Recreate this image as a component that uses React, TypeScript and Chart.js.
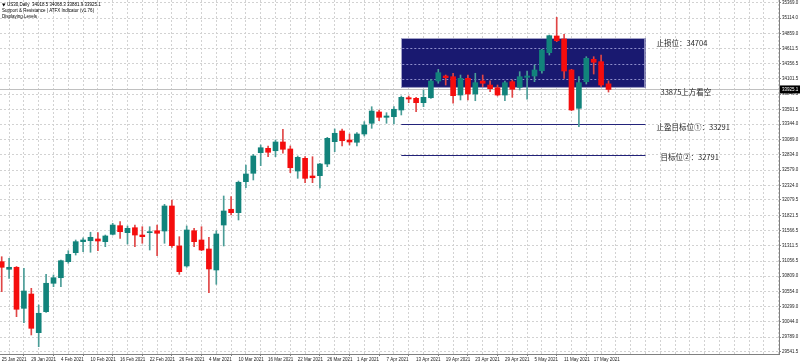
import React, { useEffect, useRef } from "react";
import { Chart, registerables } from "chart.js";

Chart.register(...registerables);

const tickLabels = [
  "25 Jan 2021", "29 Jan 2021", "4 Feb 2021", "10 Feb 2021", "16 Feb 2021", "22 Feb 2021",
  "26 Feb 2021", "4 Mar 2021", "10 Mar 2021", "16 Mar 2021", "22 Mar 2021", "26 Mar 2021",
  "1 Apr 2021", "7 Apr 2021", "13 Apr 2021", "19 Apr 2021", "23 Apr 2021", "29 Apr 2021",
  "5 May 2021", "11 May 2021", "17 May 2021",
];

const yTickValues = [
  35369.0, 35114.0, 34859.0, 34611.5, 34356.5, 34101.5, 33846.5, 33591.5, 33344.0, 33089.0,
  32834.0, 32579.0, 32324.0, 32079.5, 31821.5, 31566.5, 31311.5, 31056.5, 30809.0, 30554.0,
  30299.0, 30044.0, 29789.0, 29541.5,
];

const opens = [
  31049, 30922, 30955, 30270, 30509, 29863, 30214, 30688, 30781, 31049,
  31199, 31383, 31399, 31428, 31383, 31506, 31650, 31533, 31616, 31494,
  31533, 31566, 31561, 31979, 31311, 30977, 31566, 31411, 31261, 30910,
  31661, 31924, 31867, 32385, 32525, 32869, 32942, 32902, 33048, 32931,
  32563, 32775, 32480, 32485, 32680, 33053, 33231, 33081, 33043, 33181,
  33360, 33549, 33460, 33470, 33582, 33787, 33777, 33704, 33787, 34066,
  34150, 34138, 33832, 34111, 33849, 34066, 33999, 33954, 33832, 34055,
  33961, 34128, 34150, 34238, 34539, 34818, 34768, 34250, 33610, 34055,
  34429, 34389, 34018.5,
];
const highs = [
  31132, 31105, 30968, 30938, 30604, 30326, 30838, 30827, 31077, 31232,
  31411, 31449, 31540, 31533, 31494, 31690, 31717, 31645, 31661, 31633,
  31633, 31661, 32007, 32079, 31466, 31645, 31606, 31633, 31456, 31566,
  32146, 32134, 32396, 32664, 32842, 32998, 32981, 33081, 33260, 32981,
  32814, 32802, 32802, 32692, 33126, 33265, 33265, 33181, 33203, 33387,
  33637, 33582, 33537, 33637, 33816, 33816, 33794, 33916, 34095, 34262,
  34166, 34195, 34166, 34166, 34195, 34166, 34071, 33999, 34066, 34083,
  34222, 34233, 34333, 34596, 34834, 35130, 34846, 34262, 34138, 34472,
  34472, 34500, 34068.3,
];
const lows = [
  30548, 30771, 30130, 30030, 29825, 29629, 30200, 30631, 30631, 31022,
  31160, 31216, 31206, 31232, 31299, 31494, 31439, 31344, 31299, 31356,
  31244, 31149, 31356, 31289, 30838, 30955, 31299, 31232, 30531, 30671,
  31311, 31829, 31745, 32284, 32413, 32652, 32802, 32802, 32859, 32535,
  32441, 32368, 32368, 32279, 32635, 32886, 32981, 32998, 32981, 33148,
  33276, 33403, 33360, 33348, 33499, 33704, 33554, 33637, 33777, 34028,
  33999, 33694, 33749, 33749, 33737, 33971, 33888, 33816, 33737, 33794,
  33916, 33761, 34055, 34195, 34500, 34723, 34111, 33570, 33303, 34016,
  34183, 33971, 33881.9,
];
const closes = [
  30955, 30955, 30254, 30559, 29936, 30187, 30688, 30781, 31065, 31172,
  31383, 31411, 31456, 31394, 31478, 31661, 31550, 31606, 31494, 31466,
  31550, 31523, 31979, 31316, 30882, 31578, 31383, 31244, 30927, 31511,
  31895, 31867, 32375, 32513, 32814, 32952, 32876, 33048, 32926, 32618,
  32792, 32441, 32451, 32680, 33109, 33193, 33069, 33048, 33181, 33332,
  33565, 33460, 33482, 33594, 33794, 33766, 33704, 33794, 34066, 34205,
  34121, 33821, 34111, 33849, 34038, 34028, 33938, 33832, 34038, 33928,
  34138, 34150, 34250, 34584, 34823, 34739, 34233, 33582, 34038, 34445,
  34379, 33999, 33925.1,
];

const headerLines = [
  "US30,Daily  34018.5 34068.3 33881.9 33925.1",
  "Support & Resistance | ATFX Indicator (v1.76)",
  "Displaying Levels",
];
const bidPrice = 33925.1;
const zoneLevels = [34784, 33950];
const targetLevels = [33348, 32831];
const levelTexts = ["止损位：34704", "33875上方看空", "止盈目标位①：33291", "目标位②：32791"];
const levelTextValues = [34704, 33875, 33291, 32791];
const levelTextOffsets = [11, 15, 11, 15];
const levelRange = [54, 87];
const yRange = [29507, 35419];
const xRange = [-0.23, 105.04];

const BULL = "#12837b";
const BEAR = "#f50d0d";
const BULL_WICK = "#4a9d97";
const BEAR_WICK = "#e04545";
const GRID = "#d2d2d2";
const SMALL_FONT = '4.5px "Liberation Sans", Arial, sans-serif';

export default function App() {
  const canvasRef = useRef<HTMLCanvasElement | null>(null);

  useEffect(() => {
    document.body.style.margin = "0";
    const canvas = canvasRef.current;
    if (!canvas) return;

    const isBull = (i: number) => closes[i] >= opens[i];

    const overlay = {
      id: "overlay",
      beforeDatasetsDraw(chart: any) {
        const { ctx, chartArea } = chart;
        const x = chart.scales.x;
        const y = chart.scales.y;
        const x0 = x.getPixelForValue(levelRange[0]);
        const x1 = x.getPixelForValue(levelRange[1]);
        const yt = y.getPixelForValue(zoneLevels[0]);
        const yb = y.getPixelForValue(zoneLevels[1]);
        ctx.save();
        const by = Math.round(y.getPixelForValue(bidPrice)) + 0.5;
        ctx.strokeStyle = "#c0c0c0";
        ctx.lineWidth = 1;
        ctx.beginPath();
        ctx.moveTo(chartArea.left, by);
        ctx.lineTo(chartArea.right, by);
        ctx.stroke();
        ctx.fillStyle = "#191970";
        ctx.fillRect(x0, yt, x1 - x0, yb - yt);
        ctx.strokeStyle = "#a2a2c8";
        ctx.strokeRect(Math.round(x0) + 0.5, Math.round(yt) + 0.5, x1 - x0 - 1, yb - yt - 1);
        ctx.setLineDash([2, 2]);
        ctx.strokeStyle = "#8e8ecc";
        yTickValues.forEach((v) => {
          const py = Math.round(y.getPixelForValue(v)) + 0.5;
          if (py > yt + 2 && py < yb - 2) {
            ctx.beginPath();
            ctx.moveTo(x0 + 1, py);
            ctx.lineTo(x1 - 1, py);
            ctx.stroke();
          }
        });
        ctx.setLineDash([]);
        ctx.strokeStyle = "#23237a";
        targetLevels.forEach((v) => {
          const py = Math.round(y.getPixelForValue(v)) + 0.5;
          ctx.beginPath();
          ctx.moveTo(x0, py);
          ctx.lineTo(x1, py);
          ctx.stroke();
        });
        ctx.restore();
      },
      afterDraw(chart: any) {
        const { ctx, chartArea } = chart;
        const x = chart.scales.x;
        const y = chart.scales.y;
        ctx.save();
        ctx.font = '7.5px "Noto Sans CJK SC", sans-serif';
        ctx.fillStyle = "#1e1e1e";
        ctx.textBaseline = "middle";
        ctx.textAlign = "left";
        const xr = x.getPixelForValue(levelRange[1]);
        levelTexts.forEach((t, i) => {
          ctx.fillText(t, xr + levelTextOffsets[i], y.getPixelForValue(levelTextValues[i]));
        });
        const by = y.getPixelForValue(bidPrice);
        ctx.fillStyle = "#000000";
        ctx.fillRect(chartArea.right + 1, by - 4, 21, 8);
        ctx.fillStyle = "#ffffff";
        ctx.font = SMALL_FONT;
        ctx.fillText(bidPrice.toFixed(1), chartArea.right + 3, by);
        ctx.fillStyle = "#000000";
        ctx.beginPath();
        ctx.moveTo(2, 3.5);
        ctx.lineTo(5.5, 3.5);
        ctx.lineTo(3.75, 6.5);
        ctx.closePath();
        ctx.fill();
        ctx.font = SMALL_FONT;
        ctx.fillText(headerLines[0], 7, 5);
        ctx.fillText(headerLines[1], 2, 11);
        ctx.fillText(headerLines[2], 2, 16.5);
        ctx.restore();
      },
    };

    const chart = new Chart(canvas, {
      type: "bar",
      data: {
        datasets: [
          {
            label: "body",
            order: 0,
            data: opens.map((o, i) => ({ x: i, y: [o, closes[i]] })) as any,
            backgroundColor: opens.map((_, i) => (isBull(i) ? BULL : BEAR)),
            borderWidth: 0,
            barThickness: 5,
            minBarLength: 1,
            grouped: false,
          } as any,
          {
            label: "wick",
            order: 1,
            data: opens.map((_, i) => ({ x: i, y: [lows[i], highs[i]] })) as any,
            backgroundColor: opens.map((_, i) => (isBull(i) ? BULL_WICK : BEAR_WICK)),
            borderWidth: 0,
            barThickness: 1,
            grouped: false,
          } as any,
        ],
      },
      options: {
        responsive: false,
        animation: false,
        events: [],
        layout: { padding: 0 },
        plugins: { legend: { display: false }, tooltip: { enabled: false } },
        scales: {
          x: {
            type: "linear",
            min: xRange[0],
            max: xRange[1],
            offset: false,
            afterBuildTicks: (scale: any) => {
              const t = [];
              for (let k = 0; k <= 104; k += 2) t.push({ value: k });
              scale.ticks = t;
            },
            afterFit: (scale: any) => {
              scale.height = 10;
              scale.paddingLeft = 0;
              scale.paddingRight = 0;
            },
            ticks: {
              autoSkip: false,
              maxRotation: 0,
              minRotation: 0,
              align: "start",
              padding: 1,
              color: "#222222",
              font: { size: 4.5, family: '"Liberation Sans", Arial, sans-serif' },
              callback: (value: any) => {
                const v = Number(value);
                if (v % 4 === 0 && v / 4 < tickLabels.length) return tickLabels[v / 4];
                return "";
              },
            },
            grid: {
              color: GRID,
              lineWidth: 1,
              tickLength: 2,
              tickColor: (ctx: any) => {
                const v = ctx.tick ? ctx.tick.value : -1;
                return v % 4 === 0 && v / 4 < tickLabels.length ? "#808080" : "rgba(0,0,0,0)";
              },
              tickBorderDash: [],
            },
            border: { display: true, color: "#808080", width: 1, dash: [2, 2] },
          } as any,
          y: {
            type: "linear",
            position: "right",
            min: yRange[0],
            max: yRange[1],
            afterBuildTicks: (scale: any) => {
              scale.ticks = yTickValues.map((v) => ({ value: v }));
            },
            afterFit: (scale: any) => {
              scale.width = 21;
              scale.paddingTop = 0;
              scale.paddingBottom = 0;
            },
            ticks: {
              autoSkip: false,
              padding: 1,
              color: "#222222",
              font: { size: 4.5, family: '"Liberation Sans", Arial, sans-serif' },
              callback: (value: any) => Number(value).toFixed(1),
            },
            grid: {
              color: GRID,
              lineWidth: 1,
              tickLength: 2,
              tickColor: "#808080",
              tickBorderDash: [],
            },
            border: { display: true, color: "#808080", width: 1, dash: [2, 2] },
          } as any,
        },
      },
      plugins: [overlay],
    });

    return () => chart.destroy();
  }, []);

  return (
    <div style={{ width: 800, height: 364, background: "#ffffff" }}>
      <canvas ref={canvasRef} width={800} height={364} style={{ display: "block" }} />
    </div>
  );
}
